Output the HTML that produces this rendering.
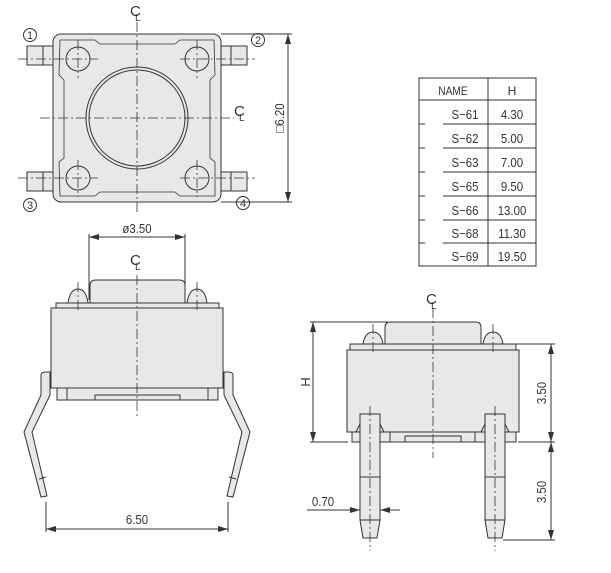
<!DOCTYPE html>
<html><head><meta charset="utf-8"><style>
html,body{margin:0;padding:0;background:#fff;width:611px;height:573px;overflow:hidden}
svg{display:block}
text{font-family:"Liberation Sans",sans-serif;fill:#333}
</style></head><body>
<svg width="611" height="573" viewBox="0 0 611 573" xmlns="http://www.w3.org/2000/svg">
<defs>
<marker id="a" viewBox="0 0 10 6" refX="10" refY="3" markerWidth="10" markerHeight="6" orient="auto-start-reverse"><path d="M0,0 L10,3 L0,6z" fill="#333"/></marker>
</defs>
<g stroke="#333" stroke-width="1" fill="none">
<!-- TOP VIEW -->
<g fill="#e8e8e8">
<rect x="27" y="46" width="27" height="19"/><rect x="27" y="172" width="27" height="19"/>
<rect x="220" y="46" width="27" height="19"/><rect x="220" y="172" width="27" height="19"/>
<rect x="53" y="34" width="168" height="168" rx="8"/>
</g>
<path d="M60,40 L95,40 L100,44 L175,44 L180,40 L214,40 L215,75 L210,80 L210,158 L215,162 L215,196 L180,196 L175,192 L100,192 L95,196 L60,196 L59,162 L64,158 L64,80 L59,75 Z" stroke-width="0.8"/>
<line x1="43" y1="46" x2="43" y2="65"/><line x1="43" y1="172" x2="43" y2="191"/>
<line x1="231" y1="46" x2="231" y2="65"/><line x1="231" y1="172" x2="231" y2="191"/>
<circle cx="137" cy="118" r="51"/><circle cx="137" cy="118" r="48"/>
<circle cx="78" cy="59" r="12"/><circle cx="197" cy="59" r="12"/>
<circle cx="78" cy="178" r="12"/><circle cx="197" cy="178" r="12"/>
<g stroke-dasharray="10,3,2,3" stroke-width="0.8">
<line x1="137" y1="22" x2="137" y2="212"/><line x1="40" y1="118" x2="234" y2="118"/>
<line x1="18" y1="59" x2="98" y2="59"/><line x1="180" y1="59" x2="255" y2="59"/>
<line x1="18" y1="178" x2="98" y2="178"/><line x1="180" y1="178" x2="255" y2="178"/>
<line x1="78" y1="40" x2="78" y2="78"/><line x1="197" y1="40" x2="197" y2="78"/>
<line x1="78" y1="160" x2="78" y2="197"/><line x1="197" y1="160" x2="197" y2="197"/>
</g>
<line x1="221" y1="34" x2="292" y2="34"/><line x1="221" y1="202" x2="292" y2="202"/>
<line x1="288" y1="34" x2="288" y2="202" marker-start="url(#a)" marker-end="url(#a)"/>
<circle cx="30" cy="35" r="6.5"/><circle cx="258" cy="40" r="6.5"/>
<circle cx="30" cy="205" r="6.5"/><circle cx="243" cy="203" r="6.5"/>

<!-- SIDE VIEW -->
<g fill="#e8e8e8">
<path d="M41,375 Q41,372 46,372 L50,372 L50,395 L32,432 L47,496 L41,497 L24,432 L41,395Z"/>
<path d="M233,375 Q233,372 228,372 L224,372 L224,395 L242,432 L227,496 L233,497 L250,432 L233,395Z"/>
<path d="M90,303 L90,285 Q90,280 96,280 L179,280 Q185,280 185,285 L185,303Z"/>
<path d="M68,303 Q70,289 78,289 Q86,289 88,303Z"/><path d="M187,303 Q189,289 197,289 Q205,289 207,303Z"/>
<rect x="56" y="303" width="163" height="5"/>
<rect x="51" y="308" width="172" height="80"/>
<rect x="57" y="388" width="161" height="12"/>
</g>
<rect x="95" y="395" width="85" height="5"/>
<line x1="67" y1="388" x2="67" y2="400"/><line x1="208" y1="388" x2="208" y2="400"/>
<line x1="39" y1="479" x2="46" y2="477"/><line x1="229" y1="477" x2="236" y2="479"/>
<g stroke-dasharray="10,3,2,3" stroke-width="0.8">
<line x1="137" y1="275" x2="137" y2="418"/>
<line x1="78" y1="282" x2="78" y2="312"/><line x1="197" y1="282" x2="197" y2="312"/>
</g>
<line x1="89" y1="234" x2="89" y2="300"/><line x1="185" y1="234" x2="185" y2="300"/>
<line x1="89" y1="237" x2="185" y2="237" marker-start="url(#a)" marker-end="url(#a)"/>
<line x1="46" y1="502" x2="46" y2="532"/><line x1="228" y1="502" x2="228" y2="532"/>
<line x1="46" y1="529" x2="228" y2="529" marker-start="url(#a)" marker-end="url(#a)"/>

<!-- RIGHT VIEW -->
<g fill="#e8e8e8">
<path d="M385,344 L385,327 Q385,322 391,322 L475,322 Q481,322 481,327 L481,344Z"/>
<path d="M363,344 Q365,332 373,332 Q381,332 383,344Z"/><path d="M483,344 Q485,332 493,332 Q501,332 503,344Z"/>
<rect x="350" y="344" width="166" height="6"/>
<rect x="347" y="350" width="172" height="82"/>
<rect x="352" y="432" width="164" height="10"/>
<path d="M360,414 L380,414 L380,520 L377,538 L363,538 L360,520Z"/>
<path d="M485,414 L505,414 L505,520 L502,538 L488,538 L485,520Z"/>
</g>
<rect x="405" y="436" width="56" height="6"/>
<line x1="390" y1="432" x2="390" y2="442"/><line x1="475" y1="432" x2="475" y2="442"/>
<line x1="360" y1="477" x2="380" y2="477"/><line x1="485" y1="477" x2="505" y2="477"/>
<line x1="360" y1="520" x2="380" y2="520"/><line x1="485" y1="520" x2="505" y2="520"/>
<path d="M360,424 L356,432 M380,424 L384,432 M485,424 L481,432 M505,424 L509,432"/>
<g stroke-dasharray="10,3,2,3" stroke-width="0.8">
<line x1="433" y1="308" x2="433" y2="458"/>
<line x1="370" y1="406" x2="370" y2="551"/><line x1="495" y1="406" x2="495" y2="551"/>
<line x1="373" y1="324" x2="373" y2="354"/><line x1="493" y1="324" x2="493" y2="354"/>
</g>
<line x1="310" y1="322" x2="388" y2="322"/><line x1="310" y1="442" x2="348" y2="442"/>
<line x1="313" y1="322" x2="313" y2="442" marker-start="url(#a)" marker-end="url(#a)"/>
<line x1="516" y1="344" x2="555" y2="344"/><line x1="518" y1="442" x2="555" y2="442"/><line x1="503" y1="540" x2="555" y2="540"/>
<line x1="551" y1="344" x2="551" y2="442" marker-start="url(#a)" marker-end="url(#a)"/>
<line x1="551" y1="442" x2="551" y2="540" marker-start="url(#a)" marker-end="url(#a)"/>
<line x1="307" y1="510" x2="360" y2="510" marker-end="url(#a)"/>
<line x1="380" y1="510" x2="400" y2="510" marker-start="url(#a)"/>

<!-- TABLE -->
<rect x="419" y="78" width="117" height="188"/>
<line x1="488" y1="78" x2="488" y2="266"/>
<line x1="419" y1="100" x2="536" y2="100"/>
<path d="M419,124 h6 M443,124 H536 M419,148 h6 M443,148 H536 M419,172 h6 M443,172 H536 M419,196 h6 M443,196 H536 M419,220 h6 M443,220 H536 M419,243 h6 M443,243 H536"/>
</g>
<!-- CL symbols -->
<g font-size="15">
<text x="130" y="16">C</text><text x="135" y="21" font-size="10">L</text>
<text x="234" y="116">C</text><text x="239" y="121" font-size="10">L</text>
<text x="130" y="265">C</text><text x="135" y="270" font-size="10">L</text>
<text x="426" y="304">C</text><text x="431" y="309" font-size="10">L</text>
</g>
<g font-size="11" text-anchor="middle">
<text x="30" y="39">1</text><text x="258" y="44">2</text><text x="30" y="209">3</text><text x="243" y="207">4</text>
</g>
<g font-size="13">
<text transform="translate(284,118) rotate(-90) scale(0.88,1)" text-anchor="middle">□6.20</text>
<text transform="translate(137,233) scale(0.88,1)" text-anchor="middle">ø3.50</text>
<text transform="translate(137,524) scale(0.88,1)" text-anchor="middle">6.50</text>
<text transform="translate(310,382) rotate(-90)" text-anchor="middle">H</text>
<text transform="translate(546,393) rotate(-90) scale(0.88,1)" text-anchor="middle">3.50</text>
<text transform="translate(546,492) rotate(-90) scale(0.88,1)" text-anchor="middle">3.50</text>
<text transform="translate(323,506) scale(0.88,1)" text-anchor="middle">0.70</text>
</g>
<g font-size="13" text-anchor="middle">
<text transform="translate(453,95) scale(0.85,1)" font-size="12">NAME</text><text x="512" y="95" font-size="12">H</text>
<text transform="translate(465,119) scale(0.88,1)">S−61</text><text transform="translate(512,119) scale(0.88,1)">4.30</text>
<text transform="translate(465,143) scale(0.88,1)">S−62</text><text transform="translate(512,143) scale(0.88,1)">5.00</text>
<text transform="translate(465,167) scale(0.88,1)">S−63</text><text transform="translate(512,167) scale(0.88,1)">7.00</text>
<text transform="translate(465,191) scale(0.88,1)">S−65</text><text transform="translate(512,191) scale(0.88,1)">9.50</text>
<text transform="translate(465,215) scale(0.88,1)">S−66</text><text transform="translate(512,215) scale(0.88,1)">13.00</text>
<text transform="translate(465,238) scale(0.88,1)">S−68</text><text transform="translate(512,238) scale(0.88,1)">11.30</text>
<text transform="translate(465,261) scale(0.88,1)">S−69</text><text transform="translate(512,261) scale(0.88,1)">19.50</text>
</g>
</svg>
</body></html>
